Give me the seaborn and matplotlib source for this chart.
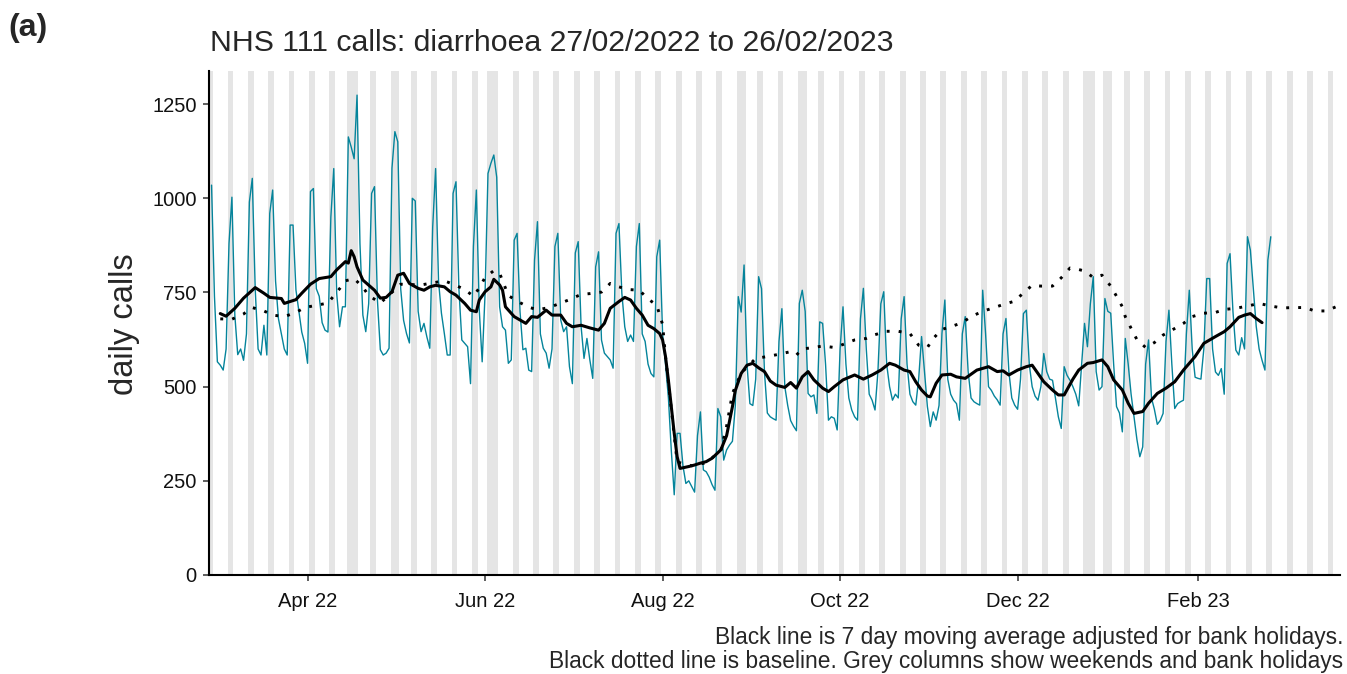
import numpy as np
import pandas as pd
import seaborn as sns
import matplotlib.pyplot as plt
import matplotlib.dates as mdates

sns.set_theme(style="ticks")
plt.rcParams['font.family'] = ['Liberation Sans', 'DejaVu Sans']

# daily NHS 111 diarrhoea calls, Sun 27/02/2022 first, then one row per week (Mon..Sun)
calls = [1035,
    740, 566, 557, 544, 600, 880, 1003,    # to Mar 6
    690, 585, 600, 570, 640, 990, 1053,    # Mar 13
    760, 600, 584, 663, 584, 960, 1022,    # Mar 20
    780, 680, 640, 600, 584, 929, 929,     # Mar 27
    757, 700, 645, 615, 562, 1018, 1026,   # Apr 3
    760, 740, 670, 650, 645, 950, 1079,    # Apr 10
    748, 659, 712, 712, 1163, 1136, 1105,  # Apr 17
    1274, 880, 690, 646, 720, 1013, 1031,  # Apr 24
    730, 598, 584, 589, 602, 1080, 1177,   # May 1
    1150, 760, 676, 641, 616, 1000, 993,   # May 8
    700, 646, 668, 632, 602, 924, 1079,    # May 15
    780, 695, 641, 584, 584, 1013, 1044,   # May 22
    760, 624, 615, 606, 508, 872, 1022,    # May 29
    704, 566, 748, 1066, 1093, 1115, 1056, # Jun 5
    712, 659, 650, 562, 571, 889, 907,     # Jun 12
    700, 598, 602, 544, 540, 836, 938,     # Jun 19
    640, 602, 589, 549, 600, 872, 907,     # Jun 26
    677, 646, 659, 553, 508, 855, 885,     # Jul 3
    659, 575, 628, 571, 522, 818, 858,     # Jul 10
    624, 589, 580, 571, 549, 907, 933,     # Jul 17
    748, 659, 620, 637, 620, 872, 933,     # Jul 24
    640, 620, 560, 535, 526, 845, 889,     # Jul 31
    640, 560, 470, 330, 213, 376, 376,     # Aug 7
    290, 243, 250, 235, 220, 370, 433,     # Aug 14
    279, 274, 260, 240, 225, 442, 420,     # Aug 21
    305, 332, 345, 355, 450, 739, 698,     # Aug 28
    823, 560, 455, 450, 520, 792, 760,     # Sep 4
    540, 430, 420, 415, 411, 620, 707,     # Sep 11
    500, 450, 410, 395, 383, 721, 756,     # Sep 18
    700, 482, 473, 478, 429, 672, 668,     # Sep 25
    560, 411, 420, 416, 385, 600, 712,     # Oct 2
    560, 470, 438, 420, 411, 680, 761,     # Oct 9
    600, 480, 464, 438, 540, 720, 752,     # Oct 16
    560, 500, 464, 480, 470, 680, 739,     # Oct 23
    560, 480, 460, 451, 520, 633, 540,     # Oct 30
    447, 394, 433, 411, 450, 641, 730,     # Nov 6
    520, 480, 464, 455, 411, 640, 686,     # Nov 13
    540, 470, 460, 455, 451, 756, 640,     # Nov 20
    500, 490, 475, 465, 451, 640, 681,     # Nov 27
    540, 470, 451, 440, 520, 694, 703,     # Dec 4
    560, 500, 475, 464, 500, 588, 540,     # Dec 11
    520, 517, 470, 420, 389, 553, 530,     # Dec 18
    517, 500, 480, 449, 560, 668, 606,     # Dec 25
    720, 792, 540, 491, 500, 734, 700,     # Jan 1
    695, 560, 447, 430, 380, 628, 560,     # Jan 8
    480, 420, 360, 314, 340, 560, 624,     # Jan 15
    470, 440, 400, 410, 429, 620, 703,     # Jan 22
    560, 442, 455, 460, 464, 640, 756,     # Jan 29
    600, 525, 522, 520, 600, 787, 787,     # Feb 5
    600, 539, 530, 548, 480, 827, 853,     # Feb 12
    700, 597, 584, 630, 600, 898, 862,     # Feb 19
    760, 660, 600, 570, 544, 836, 898,     # Feb 26
]

# 7 day moving average (adjusted for bank holidays)
ma_dates = ["2022-03-02", "2022-03-04", "2022-03-07", "2022-03-10", "2022-03-14", "2022-03-17",
            "2022-03-19", "2022-03-23", "2022-03-24", "2022-03-28", "2022-03-30", "2022-04-02",
            "2022-04-05", "2022-04-09", "2022-04-11", "2022-04-14", "2022-04-15", "2022-04-16",
            "2022-04-17", "2022-04-18", "2022-04-20", "2022-04-24", "2022-04-26", "2022-04-28",
            "2022-04-30", "2022-05-02", "2022-05-04", "2022-05-06", "2022-05-09", "2022-05-11",
            "2022-05-13", "2022-05-15", "2022-05-18", "2022-05-20", "2022-05-22", "2022-05-25",
            "2022-05-27", "2022-05-29", "2022-05-30", "2022-06-01", "2022-06-03", "2022-06-04",
            "2022-06-06", "2022-06-07", "2022-06-08", "2022-06-11", "2022-06-15", "2022-06-17",
            "2022-06-19", "2022-06-22", "2022-06-24", "2022-06-27", "2022-06-29", "2022-07-01",
            "2022-07-04", "2022-07-07", "2022-07-10", "2022-07-12", "2022-07-14", "2022-07-17",
            "2022-07-19", "2022-07-21", "2022-07-23", "2022-07-25", "2022-07-27", "2022-07-29",
            "2022-07-31", "2022-08-01", "2022-08-02", "2022-08-03", "2022-08-04", "2022-08-05",
            "2022-08-06", "2022-08-07", "2022-08-10", "2022-08-12", "2022-08-14", "2022-08-16",
            "2022-08-18", "2022-08-21", "2022-08-23", "2022-08-25", "2022-08-26", "2022-08-28",
            "2022-08-30", "2022-09-01", "2022-09-03", "2022-09-05", "2022-09-07", "2022-09-09",
            "2022-09-12", "2022-09-14", "2022-09-16", "2022-09-18", "2022-09-20", "2022-09-22",
            "2022-09-25", "2022-09-27", "2022-09-29", "2022-10-02", "2022-10-06", "2022-10-09",
            "2022-10-12", "2022-10-15", "2022-10-18", "2022-10-20", "2022-10-23", "2022-10-25",
            "2022-10-27", "2022-10-29", "2022-10-31", "2022-11-01", "2022-11-03", "2022-11-05",
            "2022-11-08", "2022-11-10", "2022-11-13", "2022-11-17", "2022-11-21", "2022-11-24",
            "2022-11-26", "2022-11-28", "2022-12-01", "2022-12-04", "2022-12-06", "2022-12-08",
            "2022-12-10", "2022-12-13", "2022-12-15", "2022-12-17", "2022-12-20", "2022-12-22",
            "2022-12-25", "2022-12-27", "2022-12-30", "2023-01-01", "2023-01-03", "2023-01-06",
            "2023-01-08", "2023-01-10", "2023-01-13", "2023-01-15", "2023-01-18", "2023-01-21",
            "2023-01-24", "2023-01-27", "2023-01-31", "2023-02-03", "2023-02-07", "2023-02-10",
            "2023-02-12", "2023-02-15", "2023-02-17", "2023-02-19", "2023-02-21", "2023-02-23"]
ma_vals = [694, 687, 708, 735, 763, 748,
           737, 734, 721, 731, 748, 772,
           787, 792, 810, 832, 828, 861,
           845, 818, 783, 756, 735, 737,
           752, 796, 801, 774, 761, 756,
           765, 769, 765, 752, 743, 721,
           703, 699, 730, 752, 765, 785,
           770, 756, 712, 686, 668, 686,
           684, 703, 690, 690, 668, 659,
           663, 656, 650, 668, 708, 726,
           737, 730, 708, 690, 663, 654,
           641, 624, 580, 517, 447, 376,
           314, 283, 288, 292, 297, 301,
           310, 332, 370, 447, 490, 535,
           557, 562, 550, 540, 515, 504,
           498, 511, 496, 526, 540, 518,
           496, 487, 500, 518, 531, 520,
           531, 544, 562, 557, 544, 540,
           513, 491, 475, 473, 509, 531,
           533, 526, 522, 544, 553, 540,
           542, 531, 544, 553, 557, 535,
           513, 491, 478, 478, 520, 544,
           562, 564, 571, 553, 518, 491,
           456, 429, 434, 456, 482, 496,
           513, 544, 580, 615, 633, 646,
           659, 684, 690, 694, 681, 670]

base_dates = ["2022-03-02", "2022-03-06", "2022-03-10", "2022-03-13", "2022-03-17", "2022-03-20",
              "2022-03-24", "2022-03-28", "2022-03-31", "2022-04-04", "2022-04-08", "2022-04-12",
              "2022-04-14", "2022-04-17", "2022-04-20", "2022-04-22", "2022-04-26", "2022-05-03",
              "2022-05-10", "2022-05-18", "2022-05-21", "2022-05-25", "2022-05-28", "2022-05-30",
              "2022-06-01", "2022-06-04", "2022-06-06", "2022-06-09", "2022-06-12", "2022-06-16",
              "2022-06-19", "2022-06-23", "2022-06-26", "2022-06-30", "2022-07-04", "2022-07-07",
              "2022-07-11", "2022-07-14", "2022-07-17", "2022-07-20", "2022-07-24", "2022-07-27",
              "2022-07-30", "2022-08-01", "2022-08-02", "2022-08-03", "2022-08-04", "2022-08-06",
              "2022-08-11", "2022-08-16", "2022-08-21", "2022-08-23", "2022-08-25", "2022-08-28",
              "2022-09-02", "2022-09-06", "2022-09-10", "2022-09-14", "2022-09-16", "2022-09-18",
              "2022-09-22", "2022-09-25", "2022-09-29", "2022-10-02", "2022-10-06", "2022-10-10",
              "2022-10-13", "2022-10-17", "2022-10-21", "2022-10-25", "2022-10-28", "2022-10-31",
              "2022-11-02", "2022-11-05", "2022-11-08", "2022-11-12", "2022-11-15", "2022-11-19",
              "2022-11-23", "2022-11-26", "2022-11-30", "2022-12-03", "2022-12-06", "2022-12-09",
              "2022-12-13", "2022-12-16", "2022-12-19", "2022-12-22", "2022-12-24", "2022-12-27",
              "2022-12-30", "2023-01-02", "2023-01-04", "2023-01-06", "2023-01-07", "2023-01-09",
              "2023-01-11", "2023-01-14", "2023-01-17", "2023-01-20", "2023-01-23", "2023-01-27",
              "2023-01-30", "2023-02-03", "2023-02-07", "2023-02-10", "2023-02-14", "2023-02-18",
              "2023-02-22", "2023-02-26", "2023-03-02", "2023-03-06", "2023-03-10", "2023-03-13",
              "2023-03-17", "2023-03-21"]
base_vals = [680, 679, 693, 710, 701, 690,
             686, 697, 710, 716, 722, 760,
             781, 787, 764, 742, 722, 772,
             770, 781, 772, 758, 740, 762,
             790, 808, 801, 742, 727, 711,
             704, 710, 719, 731, 745, 747,
             751, 774, 765, 758, 756, 733,
             716, 665, 580, 510, 440, 300,
             290, 298, 330, 395, 482, 536,
             575, 580, 586, 593, 584, 600,
             604, 608, 604, 612, 624, 628,
             638, 647, 647, 641, 610, 604,
             628, 652, 659, 670, 686, 700,
             710, 718, 727, 749, 769, 767,
             767, 789, 815, 811, 807, 790,
             796, 767, 740, 712, 686, 655,
             625, 604, 617, 637, 650, 668,
             686, 695, 697, 705, 708, 714,
             721, 714, 709, 710, 710, 701,
             701, 714]

bank_holidays = ["2022-04-15", "2022-04-18", "2022-05-02", "2022-06-02", "2022-06-03",
                 "2022-08-29", "2022-09-19", "2022-12-26", "2022-12-27", "2023-01-02"]

df = pd.DataFrame({"date": pd.date_range("2022-02-27", periods=len(calls), freq="D"),
                   "calls": calls})
ma = pd.DataFrame({"date": pd.to_datetime(ma_dates), "ma7": ma_vals})
base = pd.DataFrame({"date": pd.to_datetime(base_dates), "baseline": base_vals})

fig = plt.figure(figsize=(13.47, 6.74), dpi=100)
ax = fig.add_axes([209/1347, 1-575/674, (1340-209)/1347, (575-71)/674])

# grey columns: weekends and bank holidays
allday = pd.date_range("2022-02-26", "2023-03-22", freq="D")
grey = set(allday[allday.dayofweek >= 5]) | set(pd.to_datetime(bank_holidays))
half = pd.Timedelta(hours=12)
for d in sorted(grey):
    ax.axvspan(d - half, d + half, color="#E5E5E5", lw=0, zorder=0)

sns.lineplot(data=df, x="date", y="calls", color="#05849B", lw=1.0, ax=ax, zorder=2)
sns.lineplot(data=ma, x="date", y="ma7", color="black", lw=2.2, ax=ax, zorder=3,
             solid_joinstyle="round", solid_capstyle="round")
sns.lineplot(data=base, x="date", y="baseline", color="black", lw=2.1,
             linestyle=(0, (1, 3.1)), ax=ax, zorder=4)

ax.set_xlim(pd.Timestamp("2022-02-27") - pd.Timedelta(hours=21),
            pd.Timestamp("2023-03-21") + pd.Timedelta(hours=19))
ax.set_ylim(0, 1338)
ax.set_yticks([0, 250, 500, 750, 1000, 1250])
ax.xaxis.set_major_locator(mdates.MonthLocator(bymonth=[2, 4, 6, 8, 10, 12]))
ax.xaxis.set_major_formatter(mdates.DateFormatter("%b %y"))
ax.set_xlabel("")
ax.set_ylabel("")

for s in ["top", "right"]:
    ax.spines[s].set_visible(False)
for s in ["left", "bottom"]:
    ax.spines[s].set_linewidth(1.5)
    ax.spines[s].set_color("black")
ax.tick_params(axis="both", length=4, width=1.1, color="#333333",
               labelsize=14.5, labelcolor="#111111")
ax.tick_params(axis="x", pad=8)
ax.tick_params(axis="y", pad=5)

fig.text(124/1347, 1-324/674, "daily calls", rotation=90, fontsize=23.5,
         ha="center", va="center")
fig.text(210/1347, 1-51/674, "NHS 111 calls: diarrhoea 27/02/2022 to 26/02/2023",
         fontsize=21.8, ha="left", va="baseline")
fig.text(8/1347, 1-36/674, "(a)", fontsize=23, fontweight="bold", ha="left", va="baseline")
fig.text(1343/1347, 1-644/674, "Black line is 7 day moving average adjusted for bank holidays.",
         fontsize=16.4, ha="right", va="baseline")
fig.text(1343/1347, 1-668/674,
         "Black dotted line is baseline. Grey columns show weekends and bank holidays",
         fontsize=16.4, ha="right", va="baseline")

fig.savefig("out.png", dpi=100)
